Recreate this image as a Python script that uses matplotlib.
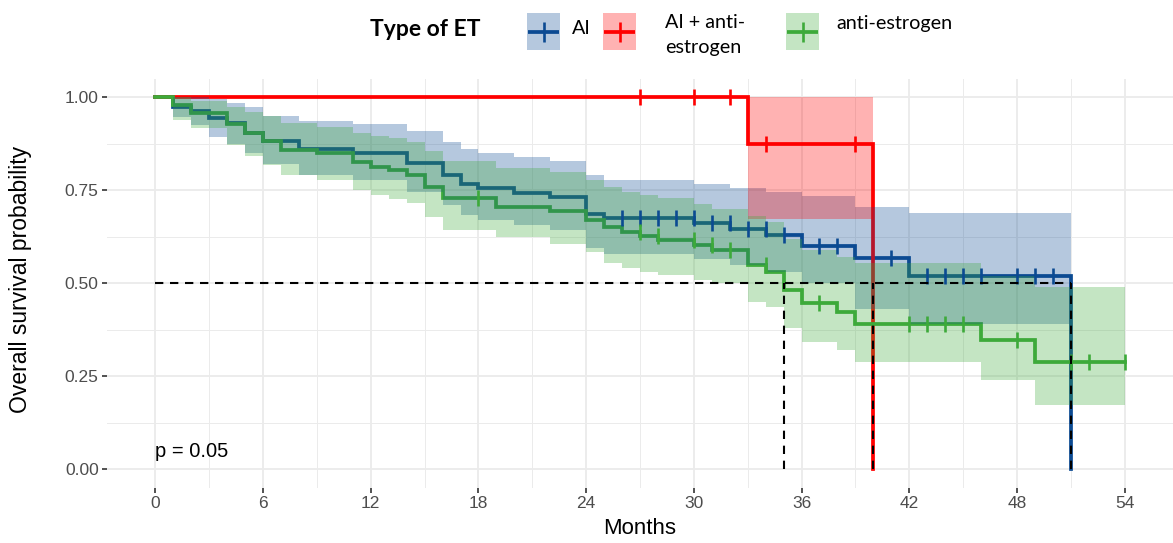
import numpy as np
import matplotlib
matplotlib.use("Agg")
import matplotlib.pyplot as plt
from matplotlib.patches import Rectangle

plt.rcParams["font.family"] = ["Liberation Sans", "DejaVu Sans"]

# ---------------- data ----------------
legend_title = "Type of ET"
groups = ["AI", "AI + anti-\nestrogen", "anti-estrogen"]
colors = ["#0B4A92", "#FF0000", "#3DAA3A"]

ai_time  = [0, 1, 2, 3, 4, 5, 6, 8, 11, 14, 16, 17, 18, 20, 22, 24, 25, 30, 32, 34, 36, 39, 42]
ai_surv  = [1.0, 0.975, 0.963, 0.944, 0.930, 0.905, 0.882, 0.860, 0.849, 0.824, 0.791, 0.767, 0.755,
            0.744, 0.733, 0.687, 0.675, 0.661, 0.645, 0.629, 0.600, 0.567, 0.520]
ai_lower = [1.0, 0.946, 0.925, 0.894, 0.875, 0.850, 0.820, 0.790, 0.778, 0.745, 0.711, 0.684, 0.670,
            0.657, 0.643, 0.594, 0.580, 0.565, 0.550, 0.530, 0.500, 0.430, 0.392]
ai_upper = [1.0, 1.0, 1.0, 0.995, 0.985, 0.973, 0.951, 0.937, 0.928, 0.910, 0.880, 0.860, 0.849,
            0.840, 0.830, 0.791, 0.779, 0.767, 0.755, 0.745, 0.735, 0.706, 0.688]
ai_end = 51
ai_to_zero = True
ai_censor = [26, 27, 28, 29, 30, 31, 32, 33, 34, 35, 37, 38, 41, 43, 44, 45, 46, 48, 49, 50]

combo_time  = [0, 33]
combo_surv  = [1.0, 0.875]
combo_lower = [1.0, 0.672]
combo_upper = [1.0, 1.0]
combo_end = 40
combo_to_zero = True
combo_censor = [27, 30, 32, 34, 39]

anti_time  = [0, 1, 2, 4, 5, 6, 7, 9, 11, 12, 13, 14, 15, 16, 19, 22, 24, 25, 26, 27, 28, 30, 31,
              33, 34, 35, 36, 38, 39, 46, 49]
anti_surv  = [1.0, 0.978, 0.957, 0.928, 0.904, 0.882, 0.859, 0.849, 0.827, 0.813, 0.805, 0.791,
              0.760, 0.729, 0.704, 0.694, 0.671, 0.651, 0.639, 0.627, 0.616, 0.603, 0.589,
              0.549, 0.531, 0.482, 0.448, 0.424, 0.392, 0.349, 0.289]
anti_lower = [1.0, 0.940, 0.917, 0.872, 0.842, 0.818, 0.791, 0.778, 0.751, 0.737, 0.728, 0.715,
              0.679, 0.643, 0.625, 0.607, 0.585, 0.555, 0.542, 0.530, 0.522, 0.508, 0.500,
              0.450, 0.437, 0.380, 0.343, 0.321, 0.289, 0.240, 0.173]
anti_upper = [1.0, 1.0, 0.990, 0.975, 0.960, 0.951, 0.930, 0.920, 0.905, 0.896, 0.890, 0.880,
              0.857, 0.830, 0.810, 0.798, 0.778, 0.760, 0.745, 0.738, 0.730, 0.712, 0.700,
              0.680, 0.665, 0.620, 0.590, 0.570, 0.555, 0.520, 0.491]
anti_end = 54
anti_to_zero = False
anti_censor = [18, 27, 28, 30, 31, 32, 34, 37, 42, 43, 44, 45, 48, 51, 52, 54]

p_text = "p = 0.05"
x_ticks = [0, 6, 12, 18, 24, 30, 36, 42, 48, 54]
y_ticks = [0.0, 0.25, 0.50, 0.75, 1.00]
y_ticklabels = ["0.00", "0.25", "0.50", "0.75", "1.00"]

series = [
    (ai_time, ai_surv, ai_lower, ai_upper, ai_end, ai_to_zero, ai_censor),
    (combo_time, combo_surv, combo_lower, combo_upper, combo_end, combo_to_zero, combo_censor),
    (anti_time, anti_surv, anti_lower, anti_upper, anti_end, anti_to_zero, anti_censor),
]

# ---------------- figure ----------------
W, H = 1173, 543
fig = plt.figure(figsize=(W / 100, H / 100), dpi=100)
fig.patch.set_facecolor("white")

def fx(px):
    return px / W

def fy(py):
    return 1 - py / H

ax = fig.add_axes([fx(107), fy(488), fx(1173) - fx(107), fy(78.7) - fy(488)])
ax.set_xlim(-2.7, 56.7)
ax.set_ylim(-0.05, 1.05)
for s in ax.spines.values():
    s.set_visible(False)

ax.set_xticks(x_ticks)
ax.set_xticks([t + 3 for t in x_ticks[:-1]], minor=True)
ax.set_yticks(y_ticks)
ax.set_yticklabels(y_ticklabels)
ax.set_yticks([0.125, 0.375, 0.625, 0.875], minor=True)
ax.grid(True, which="major", color="#EBEBEB", lw=1.3, zorder=0)
ax.grid(True, which="minor", color="#EBEBEB", lw=0.7, zorder=0)
ax.set_axisbelow(True)
ax.tick_params(which="major", length=3.5, width=1.2, color="#333333",
               labelcolor="#4D4D4D", labelsize=12.5, pad=2.5)
ax.tick_params(which="minor", length=0)

medians = []
for (t, s, lo, up, end, to_zero, cens), col in zip(series, colors):
    t = list(t); s = list(s)
    xs = t + [end]
    ys = s + [s[-1]]
    if to_zero:
        xs = xs + [end]
        ys = ys + [0.0]
    ax.plot(xs, ys, drawstyle="steps-post", color=col, lw=2.7, zorder=2,
            solid_joinstyle="miter")
    ax.fill_between(t + [end], list(lo) + [lo[-1]], list(up) + [up[-1]], step="post",
                    color=col, alpha=0.3, lw=0, zorder=3)
    ta = np.array(t)
    cy = []
    for c in cens:
        idx = np.searchsorted(ta, c, side="left") - 1
        cy.append(s[max(idx, 0)])
    ax.plot(cens, cy, ls="none", marker="|", ms=11.5, mew=1.9, color=col, zorder=4)
    med = None
    for tt, ss in zip(xs, ys):
        if ss <= 0.5:
            med = tt
            break
    medians.append(med)

med_vals = [m for m in medians if m is not None]
dash = (0, (4, 3.2))
ax.plot([0, max(med_vals)], [0.5, 0.5], color="black", lw=1.5, ls=dash, zorder=5)
for m in med_vals:
    ax.plot([m, m], [0, 0.5], color="black", lw=1.5, ls=dash, zorder=5)

ax.text(0, 0.047, p_text, ha="left", va="center", fontsize=14.5, color="black", zorder=6)

fig.text(fx(640), fy(528), "Months", ha="center", va="center", fontsize=16, color="black")
fig.text(fx(21), fy(279), "Overall survival probability", ha="center", va="center",
         rotation=90, fontsize=16.5, color="black")

# ---------------- legend (figure pixel space) ----------------
lax = fig.add_axes([0, 0, 1, 1], facecolor="none")
lax.set_xlim(0, W)
lax.set_ylim(H, 0)
lax.axis("off")

lax.text(425, 30, legend_title, ha="center", va="center", fontsize=16.5,
         fontweight="bold", family="Lato", color="black")

key_x = [527, 603, 786]
key_w = 33
key_top, key_bot = 13, 50
lab_x = [572, 665, 836]
for kx, lx, col, g in zip(key_x, lab_x, colors, groups):
    lax.add_patch(Rectangle((kx, key_top), key_w, key_bot - key_top, facecolor=col,
                            alpha=0.3, lw=0))
    cy = (key_top + key_bot) / 2
    lax.plot([kx + 1, kx + key_w - 1], [cy, cy], color=col, lw=2.7,
             solid_capstyle="butt")
    lax.plot([kx + key_w / 2, kx + key_w / 2], [cy - 10, cy + 10], color=col, lw=1.9,
             solid_capstyle="butt")
    if "\n" in g:
        l1, l2 = g.split("\n")
        lax.text(lx, 22, l1, ha="left", va="center", fontsize=14.2, family="Lato")
        lax.text(lx, 47, l2, ha="left", va="center", fontsize=14.2, family="Lato")
    else:
        yy = 28 if g == "AI" else 24
        lax.text(lx, yy, g, ha="left", va="center", fontsize=14.2, family="Lato")

fig.savefig("out.png", dpi=100, facecolor="white")
